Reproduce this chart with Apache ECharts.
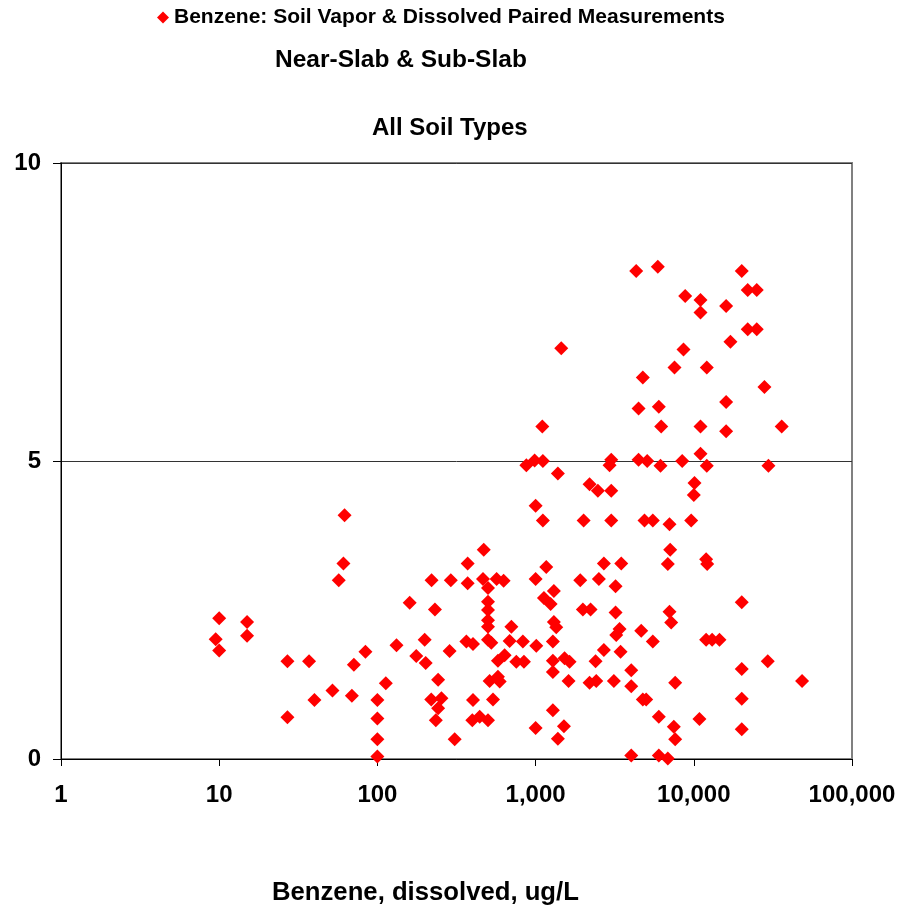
<!DOCTYPE html>
<html>
<head>
<meta charset="utf-8">
<script src="https://cdn.jsdelivr.net/npm/echarts@6/dist/echarts.min.js"></script>
<style>
html,body{margin:0;padding:0;background:#fff;}
#chart{width:915px;height:907px;}
</style>
</head>
<body>
<div id="chart"></div>
<script>
// Benzene dissolved (ug/L) - x values
var xValues = [
  10, 9.5, 10, 15, 15, 27, 37, 40, 52, 27, 62, 61, 57,
  470, 372, 220, 291, 372, 465, 567, 628, 500, 160, 231, 500, 500, 500, 500,
  132, 199, 286, 365, 402, 500, 525, 84, 71, 176, 202, 578, 113, 242, 512, 578,
  69, 100, 219, 254, 402, 538, 242, 100, 234, 398, 443, 500, 100, 308, 100,
  1000, 1112, 2011, 3008, 1168, 2701, 3478, 1000, 1916, 2511, 3201, 1305, 1129, 1244,
  1990, 2226, 3201, 703, 1305, 1351, 3393, 3233, 4652, 685, 831, 1010, 1286, 2701,
  3443, 637, 755, 844, 1286, 1525, 1640, 2393, 4023, 593, 1286, 1616, 2194, 2418,
  3124, 4023, 4761, 1286, 1000, 1510, 1383, 4023,
  10000, 4881, 5507, 7020, 9627, 7092, 6848, 11970, 12150, 20090, 7020, 7195, 5507,
  11970, 13060, 14530, 29330, 20090, 48350, 7627, 5003, 20090, 6010, 10860, 7473,
  7627, 20090, 6010, 6848,
  1453, 4761, 4474, 1103, 874, 986, 1112, 1383, 2934, 3008, 4474, 2194, 2475, 3008,
  4325, 5923, 20090, 21920, 24990, 8824, 11020, 11020, 16010, 21920, 24990, 17050,
  8607, 7549, 12080, 27950, 6010, 16010, 6222, 11020, 16010, 35950, 5076, 6160,
  8446, 11020, 12080, 29630, 10100
];
// Soil vapor values - y values
var yValues = [
  2.36, 2.01, 1.82, 2.30, 2.07, 1.64, 1.64, 0.99, 1.15, 0.70, 4.09, 3.28, 3.00,
  3.51, 3.28, 3.00, 3.00, 2.95, 3.02, 3.02, 2.99, 2.87, 2.62, 2.51, 2.64, 2.50, 2.33, 2.22,
  1.91, 2.00, 1.81, 1.97, 1.93, 2.00, 1.95, 1.80, 1.58, 1.73, 1.61, 1.65, 1.27, 1.33, 1.31, 1.38,
  1.06, 0.99, 1.00, 1.02, 0.99, 1.00, 0.85, 0.68, 0.65, 0.65, 0.71, 0.65, 0.33, 0.33, 0.04,
  4.25, 4.00, 4.00, 4.00, 3.22, 3.28, 3.28, 3.02, 3.00, 3.02, 2.90, 2.82, 2.70, 2.60,
  2.51, 2.51, 2.46, 2.22, 2.30, 2.21, 2.18, 2.08, 2.15, 1.98, 1.97, 1.90, 1.97, 1.83,
  1.80, 1.74, 1.63, 1.63, 1.65, 1.69, 1.63, 1.64, 1.49, 1.30, 1.46, 1.31, 1.28, 1.31,
  1.31, 1.22, 1.00, 0.82, 0.52, 0.55, 0.34, 0.06,
  4.43, 4.00, 4.00, 3.94, 4.00, 3.51, 3.27, 3.35, 3.27, 2.63, 2.47, 2.29, 1.97,
  2.00, 2.00, 2.00, 1.64, 1.51, 1.31, 1.28, 1.00, 1.01, 0.71, 0.67, 0.54,
  0.33, 0.50, 0.06, 0.01,
  6.89, 6.40, 5.88, 5.58, 4.93, 5.01, 5.00, 4.79, 4.93, 5.02, 5.02, 4.61, 4.50, 4.50,
  8.19, 8.26, 8.19, 7.87, 7.87, 7.77, 7.70, 7.49, 7.60, 7.21, 7.21, 7.00,
  6.87, 6.57, 6.57, 6.24, 5.91, 5.99, 5.58, 5.58, 5.50, 5.58, 5.00, 4.92,
  5.00, 5.12, 4.92, 4.92, 4.63
];
var xTickLabels = ['1', '10', '100', '1,000', '10,000', '100,000'];
var yTickValues = [0, 5, 10];
var seriesName = 'Benzene: Soil Vapor & Dissolved Paired Measurements';
var titleText = 'Near-Slab & Sub-Slab';
var subtitleText = 'All Soil Types';
var xAxisTitle = 'Benzene, dissolved, ug/L';

var points = xValues.map(function (x, i) { return [x, yValues[i]]; });
var FONT = '"Liberation Sans", Arial, sans-serif';

var chart = echarts.init(document.getElementById('chart'), null, {renderer: 'canvas'});
chart.setOption({
  backgroundColor: '#ffffff',
  animation: false,
  title: [
    {text: titleText, left: 275, top: 48, padding: 0,
     textStyle: {fontSize: 24.5, fontWeight: 'bold', fontFamily: FONT, color: '#000'}},
    {text: subtitleText, left: 372, top: 116, padding: 0,
     textStyle: {fontSize: 24, fontWeight: 'bold', fontFamily: FONT, color: '#000'}},
    {text: xAxisTitle, left: 272, top: 880, padding: 0,
     textStyle: {fontSize: 25.7, fontWeight: 'bold', fontFamily: FONT, color: '#000'}}
  ],
  legend: {
    data: [seriesName],
    left: 157, top: 7, padding: 0,
    icon: 'diamond', itemWidth: 12, itemHeight: 12,
    textStyle: {fontSize: 21, fontWeight: 'bold', fontFamily: FONT, color: '#000'}
  },
  grid: {
    left: 61, right: 63, top: 163, bottom: 148,
    show: true, borderColor: '#808080', borderWidth: 2, backgroundColor: 'transparent'
  },
  xAxis: {
    type: 'log', logBase: 10, min: 1, max: 100000,
    axisLine: {show: true, lineStyle: {color: '#000', width: 1}},
    axisTick: {show: true, length: 7, lineStyle: {color: '#000'}},
    minorTick: {show: false},
    splitLine: {show: false},
    axisLabel: {
      margin: 24, fontSize: 24, fontWeight: 'bold', fontFamily: FONT, color: '#000',
      formatter: function (v) {
        var idx = Math.round(Math.log10(v));
        return xTickLabels[idx] !== undefined ? xTickLabels[idx] : '';
      }
    }
  },
  yAxis: {
    type: 'value', min: yTickValues[0], max: yTickValues[yTickValues.length - 1], interval: 5,
    axisLine: {show: true, lineStyle: {color: '#000', width: 1}},
    axisTick: {show: true, length: 8, lineStyle: {color: '#000'}},
    splitLine: {show: true, lineStyle: {color: '#333', width: 1}},
    axisLabel: {margin: 20, fontSize: 24, fontWeight: 'bold', fontFamily: FONT, color: '#000'}
  },
  series: [{
    name: seriesName,
    type: 'scatter',
    symbol: 'diamond',
    symbolSize: 14,
    itemStyle: {color: '#FF0000', opacity: 1},
    data: points
  }]
});
</script>
</body>
</html>
